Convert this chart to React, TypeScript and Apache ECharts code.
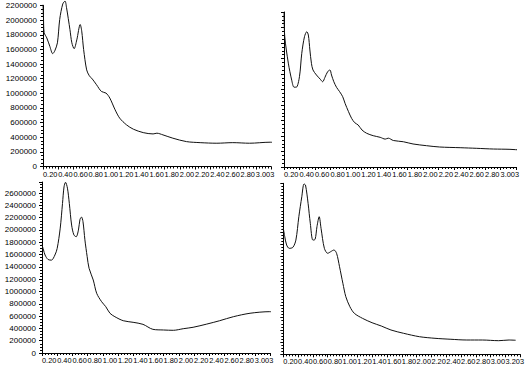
import React, { useEffect, useRef } from "react";
import * as echarts from "echarts";

// x tick step (axis 0 .. 3.003 split into 15 parts)
const xStep = 0.2002;
const xLastLabel = "3.003";

// Top-left spectrum [wavelength, intensity]
const topLeft: number[][] = [
  [0, 2210000], [0.006, 2050000], [0.015, 1830000], [0.05, 1757000], [0.09, 1642000],
  [0.128, 1542000], [0.155, 1580000], [0.19, 1690000], [0.22, 2010000], [0.26, 2220000],
  [0.29, 2260000], [0.31, 2170000], [0.355, 1870000], [0.38, 1690000], [0.41, 1610000],
  [0.445, 1730000], [0.49, 1940000], [0.51, 1850000], [0.535, 1600000], [0.575, 1320000],
  [0.61, 1240000], [0.65, 1195000], [0.705, 1117000], [0.77, 1025000], [0.83, 1003000],
  [0.88, 935000], [0.95, 774000], [1.01, 661000], [1.1, 569000], [1.19, 510000],
  [1.32, 463000], [1.45, 445000], [1.5, 455000], [1.58, 432000], [1.71, 387000],
  [1.89, 340000], [2.07, 326000], [2.29, 318000], [2.5, 326000], [2.72, 318000],
  [2.99, 332000], [3.07, 326000],
];

// Top-right spectrum
const topRight: number[][] = [
  [0, 2000000], [0.01, 1680000], [0.056, 1340000], [0.1, 1120000], [0.13, 1030000],
  [0.16, 1030000], [0.2, 1165000], [0.23, 1467000], [0.265, 1681000], [0.295, 1746000],
  [0.315, 1703000], [0.335, 1510000], [0.355, 1338000], [0.375, 1252000], [0.42, 1187000],
  [0.47, 1132000], [0.5, 1100000], [0.53, 1157000], [0.565, 1230000], [0.595, 1252000],
  [0.615, 1187000], [0.645, 1100000], [0.68, 1028000], [0.72, 972000], [0.76, 907000],
  [0.79, 822000], [0.835, 714000], [0.875, 628000], [0.915, 572000], [0.96, 542000],
  [1.01, 477000], [1.07, 435000], [1.155, 404000], [1.245, 383000], [1.31, 360000],
  [1.35, 372000], [1.415, 342000], [1.545, 326000], [1.67, 297000], [1.845, 275000],
  [2.015, 258000], [2.28, 249000], [2.495, 241000], [2.71, 232000], [2.925, 228000],
  [3.065, 219000], [3.145, 215000],
];

// Bottom-left spectrum
const bottomLeft: number[][] = [
  [0, 1760000], [0.02, 1675000], [0.04, 1593000], [0.08, 1520000], [0.125, 1510000],
  [0.17, 1593000], [0.2, 1700000], [0.24, 2030000], [0.27, 2430000], [0.29, 2700000],
  [0.31, 2775000], [0.335, 2680000], [0.36, 2430000], [0.39, 2080000], [0.42, 1920000],
  [0.45, 1890000], [0.48, 2000000], [0.5, 2170000], [0.52, 2210000], [0.54, 2135000],
  [0.565, 1840000], [0.595, 1566000], [0.62, 1377000], [0.675, 1187000], [0.72, 971000],
  [0.785, 834000], [0.84, 753000], [0.895, 646000], [0.96, 590000], [1.07, 525000],
  [1.2, 499000], [1.33, 466000], [1.46, 385000], [1.6, 374000], [1.73, 369000],
  [1.86, 395000], [1.99, 418000], [2.17, 470000], [2.34, 525000], [2.52, 590000],
  [2.74, 646000], [3.0, 672000], [3.08, 660000],
];

// Bottom-right spectrum
const bottomRight: number[][] = [
  [0, 2063000], [0.02, 1925000], [0.045, 1790000], [0.08, 1735000], [0.13, 1752000],
  [0.17, 1870000], [0.21, 2253000], [0.25, 2580000], [0.28, 2789000], [0.3, 2772000],
  [0.335, 2472000], [0.365, 2145000], [0.4, 1870000], [0.43, 1883000], [0.455, 2090000],
  [0.485, 2253000], [0.51, 2063000], [0.555, 1735000], [0.6, 1654000], [0.64, 1680000],
  [0.685, 1708000], [0.72, 1654000], [0.76, 1434000], [0.805, 1163000], [0.845, 943000],
  [0.9, 779000], [0.96, 671000], [1.07, 589000], [1.2, 517000], [1.325, 463000],
  [1.455, 398000], [1.625, 344000], [1.84, 288000], [2.05, 262000], [2.265, 246000],
  [2.48, 234000], [2.69, 234000], [2.91, 223000], [3.05, 234000], [3.14, 230000],
];

const FONT = "Liberation Sans";

function xLabel(extra: boolean) {
  return (v: number) => {
    const k = Math.round(v / xStep);
    if (k === 14) return extra ? "3.00" : xLastLabel;
    if (k === 15) return extra ? "3.203" : "";
    if (k > 15) return "";
    return ((k + 1) * xStep).toFixed(2);
  };
}

function makeX(gridIndex: number, max: number, extra: boolean) {
  return {
    type: "value",
    gridIndex,
    min: 0,
    max,
    interval: xStep,
    splitLine: { show: false },
    axisLine: { lineStyle: { color: "#000", width: 1 } },
    axisTick: { length: 3, lineStyle: { color: "#000" } },
    minorTick: { show: true, splitNumber: 5, length: 2, lineStyle: { color: "#000" } },
    axisLabel: {
      formatter: xLabel(extra),
      align: "left",
      fontSize: 7.4,
      fontFamily: FONT,
      color: "#000",
      margin: 4,
      hideOverlap: false,
      showMaxLabel: true,
      showMinLabel: true,
    },
  };
}

function makeY(gridIndex: number, max: number, showLabels: boolean) {
  return {
    type: "value",
    gridIndex,
    min: 0,
    max,
    interval: 200000,
    splitLine: { show: false },
    axisLine: { show: true, lineStyle: { color: "#000", width: 1 } },
    axisTick: { show: true, length: 3, lineStyle: { color: "#000" } },
    minorTick: { show: true, splitNumber: 4, length: 2, lineStyle: { color: "#000" } },
    axisLabel: {
      show: showLabels,
      formatter: (v: number) => String(Math.round(v)),
      fontSize: 8,
      fontFamily: FONT,
      color: "#000",
      margin: 6,
      showMaxLabel: max % 200000 === 0,
    },
  };
}

function makeSeries(idx: number, data: number[][]) {
  return {
    type: "line",
    xAxisIndex: idx,
    yAxisIndex: idx,
    data,
    smooth: 0.3,
    symbol: "none",
    clip: false,
    lineStyle: { color: "#111", width: 1 },
  };
}

export default function App() {
  const ref = useRef<HTMLDivElement>(null);
  useEffect(() => {
    if (!ref.current) return;
    const chart = echarts.init(ref.current, null, { renderer: "svg" });
    chart.setOption({
      animation: false,
      backgroundColor: "#fff",
      grid: [
        { left: 43, top: 5.5, width: 228, height: 161 },
        { left: 284, top: 12, width: 232, height: 155 },
        { left: 42, top: 182, width: 228, height: 171 },
        { left: 283.3, top: 183.3, width: 249.5, height: 171 },
      ],
      xAxis: [
        makeX(0, 3.003, false),
        makeX(1, 3.003, false),
        makeX(2, 3.003, false),
        makeX(3, 3.203, true),
      ],
      yAxis: [
        makeY(0, 2200000, true),
        makeY(1, 2000000, false),
        makeY(2, 2780000, true),
        makeY(3, 2800000, false),
      ],
      series: [
        makeSeries(0, topLeft),
        makeSeries(1, topRight),
        makeSeries(2, bottomLeft),
        makeSeries(3, bottomRight),
      ],
    });
    return () => chart.dispose();
  }, []);
  return (
    <div
      ref={ref}
      style={{ position: "fixed", left: 0, top: 0, width: 527, height: 368, background: "#fff" }}
    />
  );
}
